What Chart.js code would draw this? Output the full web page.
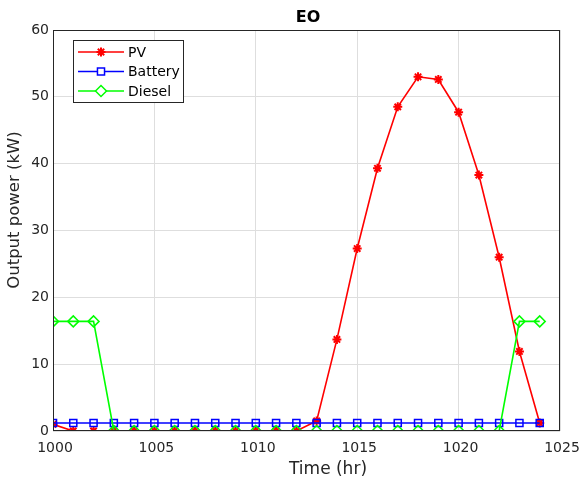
<!DOCTYPE html>
<html><head><meta charset="utf-8">
<script src="https://cdn.jsdelivr.net/npm/chart.js@4"></script>
<style>html,body{margin:0;padding:0;background:#fff}#wrap{width:584px;height:486px}</style>
</head><body><div id="wrap"><canvas id="c" width="584" height="486"></canvas></div>
<script>
const hours = [1000,1001,1002,1003,1004,1005,1006,1007,1008,1009,1010,1011,1012,1013,1014,1015,1016,1017,1018,1019,1020,1021,1022,1023,1024];
const pv = [1.0,0,0,0,0,0,0,0,0,0,0,0,0,1.5,13.7,27.3,39.3,48.5,53.0,52.6,47.7,38.3,26.0,11.9,1.2];
const battery = [1.2,1.2,1.2,1.2,1.2,1.2,1.2,1.2,1.2,1.2,1.2,1.2,1.2,1.2,1.2,1.2,1.2,1.2,1.2,1.2,1.2,1.2,1.2,1.2,1.2];
const diesel = [16.4,16.4,16.4,0,0,0,0,0,0,0,0,0,0,0,0,0,0,0,0,0,0,0,0,16.4,16.4];
const xTicks = [1000,1005,1010,1015,1020,1025];
const yTicks = [0,10,20,30,40,50,60];
const seriesNames = ['PV','Battery','Diesel'];
const chartTitle = 'EO';
const xTitle = 'Time (hr)';
const yTitle = 'Output power (kW)';

const FONT = 'DejaVu Sans';
const toXY = arr => arr.map((v,i)=>({x:hours[i], y:v}));

const frame = {
  id:'frame',
  afterDraw(chart){
    const {ctx, chartArea:a} = chart;
    ctx.save();
    ctx.strokeStyle = '#262626';
    ctx.lineWidth = 1;
    ctx.strokeRect(a.left+0.5, a.top+0.5, a.right-a.left-1, a.bottom-a.top-1);
    // title
    ctx.fillStyle = '#000';
    ctx.font = 'bold 16px "'+FONT+'"';
    ctx.textAlign = 'center'; ctx.textBaseline = 'middle';
    ctx.fillText(chartTitle, 308, 18);
    // axis titles
    ctx.fillStyle = '#262626';
    ctx.font = '17px "'+FONT+'"';
    ctx.fillText(xTitle, 328, 470);
    ctx.save();
    ctx.translate(15, 210);
    ctx.rotate(-Math.PI/2);
    ctx.font = '16.5px "'+FONT+'"';
    ctx.fillText(yTitle, 0, 0);
    ctx.restore();
    // legend
    const lx = 73, ly = 40, lw = 110, lh = 62;
    ctx.fillStyle = '#fff';
    ctx.fillRect(lx, ly, lw, lh);
    ctx.strokeStyle = '#262626';
    ctx.lineWidth = 1;
    ctx.strokeRect(lx+0.5, ly+0.5, lw, lh);
    chart.data.datasets.forEach((ds, i) => {
      const y = 52 + i*19.5;
      ctx.strokeStyle = ds.borderColor; ctx.lineWidth = 1.5;
      ctx.beginPath(); ctx.moveTo(78, y); ctx.lineTo(124, y); ctx.stroke();
      ctx.strokeStyle = ds.borderColor; ctx.lineWidth = ds.pointBorderWidth||1.5;
      ctx.fillStyle = '#fff';
      Chart.helpers.drawPoint(ctx, {pointStyle: ds.pointStyle, radius: ds.pointRadius, borderWidth: ds.pointBorderWidth||1.5}, 101, y);
      ctx.fillStyle = '#000';
      ctx.font = '14px "'+FONT+'"';
      ctx.textAlign = 'left'; ctx.textBaseline = 'middle';
      ctx.fillText(ds.label, 128, y+1);
    });
    ctx.restore();
  }
};

new Chart(document.getElementById('c'), {
  type:'line',
  data:{datasets:[
    {label:seriesNames[0], data:toXY(pv), borderColor:'#ff0000', backgroundColor:'rgba(0,0,0,0)', borderWidth:1.6, pointStyle:'star', pointRadius:4.5, pointBorderWidth:2, pointBorderColor:'#ff0000', pointBackgroundColor:'#ff0000', order:2},
    {label:seriesNames[1], data:toXY(battery), borderColor:'#0000ff', backgroundColor:'rgba(0,0,0,0)', borderWidth:1.6, pointStyle:'rect', pointRadius:5, pointBorderWidth:1.5, pointBorderColor:'#0000ff', pointBackgroundColor:'rgba(0,0,0,0)', order:1},
    {label:seriesNames[2], data:toXY(diesel), borderColor:'#00ff00', backgroundColor:'rgba(0,0,0,0)', borderWidth:1.6, pointStyle:'rectRot', pointRadius:5.5, pointBorderWidth:1.5, pointBorderColor:'#00ff00', pointBackgroundColor:'rgba(0,0,0,0)', order:0}
  ]},
  options:{
    responsive:false, animation:false, devicePixelRatio:1,
    layout:{padding:{top:30,right:24,left:0,bottom:0}},
    plugins:{legend:{display:false}, title:{display:false}, tooltip:{enabled:false}},
    elements:{line:{tension:0}},
    scales:{
      x:{type:'linear', min:1000, max:1025,
        afterFit(s){ s.height = 55; s.paddingLeft = 0; s.paddingRight = 0; },
        afterBuildTicks(s){ s.ticks = xTicks.map(v=>({value:v})); },
        grid:{color:'#dedede', drawTicks:false},
        border:{display:false},
        ticks:{color:'#262626', font:{family:FONT,size:14}, padding:9, maxRotation:0, labelOffset:2, callback:v=>String(v)},
        title:{display:false}
      },
      y:{type:'linear', min:0, max:60,
        afterFit(s){ s.width = 53; s.paddingTop = 0; s.paddingBottom = 0; },
        afterBuildTicks(s){ s.ticks = yTicks.map(v=>({value:v})); },
        grid:{color:'#dedede', drawTicks:false},
        border:{display:false},
        ticks:{color:'#262626', font:{family:FONT,size:14}, padding:4, callback:v=>String(v)},
        title:{display:false}
      }
    }
  },
  plugins:[frame]
});
</script></body></html>
